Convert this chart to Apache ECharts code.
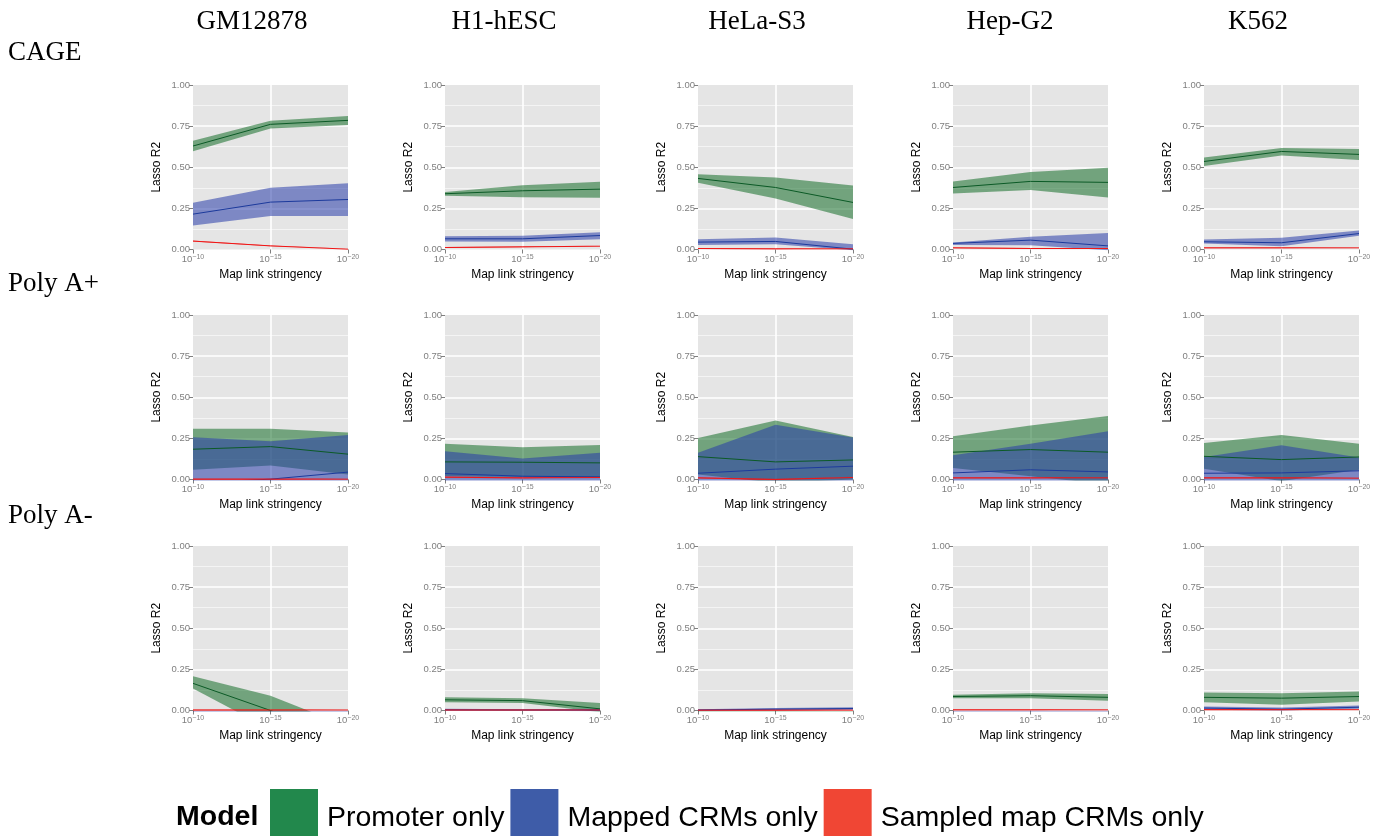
<!DOCTYPE html>
<html>
<head>
<meta charset="utf-8">
<script src="https://cdn.jsdelivr.net/npm/echarts@6/dist/echarts.min.js"></script>
<style>html,body{margin:0;padding:0;background:#fff}#c{width:1387px;height:837px}</style>
</head>
<body>
<div id="c"></div>
<script>
// ---------- data ----------
const cellLines = ['GM12878', 'H1-hESC', 'HeLa-S3', 'Hep-G2', 'K562'];
const assays = ['CAGE', 'Poly A+', 'Poly A-'];
const models = ['Promoter only', 'Mapped CRMs only', 'Sampled map CRMs only'];
const stringency = ['10', '15', '20'];          // exponent of 10^-x
const yTicks = [0, 0.25, 0.5, 0.75, 1];

// CAGE
const cagePromoterMean = [[0.629,0.761,0.785],[0.339,0.357,0.367],[0.432,0.377,0.286],[0.377,0.414,0.408],[0.535,0.596,0.578]];
const cagePromoterLow  = [[0.598,0.736,0.757],[0.327,0.318,0.314],[0.406,0.310,0.185],[0.341,0.361,0.316],[0.507,0.572,0.544]];
const cagePromoterHigh = [[0.661,0.783,0.811],[0.349,0.391,0.412],[0.458,0.438,0.389],[0.414,0.471,0.497],[0.560,0.617,0.611]];
const cageMappedMean = [[0.215,0.288,0.304],[0.065,0.065,0.085],[0.045,0.049,0.002],[0.037,0.057,0.022],[0.047,0.041,0.097]];
const cageMappedLow  = [[0.146,0.203,0.203],[0.049,0.047,0.063],[0.028,0.032,-0.004],[0.028,0.026,-0.005],[0.037,0.020,0.083]];
const cageMappedHigh = [[0.284,0.375,0.402],[0.081,0.083,0.105],[0.063,0.073,0.032],[0.043,0.077,0.101],[0.061,0.071,0.116]];
const cageSampledMean = [[0.051,0.022,0.002],[0.012,0.016,0.020],[0.006,0.004,0.004],[0.010,0.006,0.006],[0.010,0.010,0.010]];
const cageSampledLow  = [[0.048,0.019,-0.001],[0.009,0.013,0.017],[0.003,0.001,0.001],[0.007,0.003,0.003],[0.007,0.007,0.007]];
const cageSampledHigh = [[0.054,0.025,0.005],[0.015,0.019,0.023],[0.009,0.007,0.007],[0.013,0.009,0.009],[0.013,0.013,0.013]];

// Poly A+
const polyPlusPromoterMean = [[0.184,0.200,0.154],[0.107,0.105,0.101],[0.139,0.107,0.119],[0.166,0.182,0.166],[0.141,0.121,0.137]];
const polyPlusPromoterLow  = [[0.060,0.085,0.030],[0.020,0.015,0.015],[0.030,-0.020,0.000],[0.070,0.020,-0.030],[0.065,-0.010,0.060]];
const polyPlusPromoterHigh = [[0.309,0.309,0.285],[0.218,0.196,0.210],[0.253,0.358,0.259],[0.263,0.329,0.386],[0.222,0.271,0.218]];
const polyPlusMappedMean = [[-0.020,0.002,0.045],[0.036,0.020,0.016],[0.038,0.063,0.081],[0.040,0.059,0.046],[0.038,0.040,0.053]];
const polyPlusMappedLow  = [[-0.300,-0.230,-0.180],[-0.100,-0.090,-0.130],[-0.090,-0.200,-0.090],[-0.070,-0.100,-0.200],[-0.060,-0.130,-0.030]];
const polyPlusMappedHigh = [[0.257,0.232,0.271],[0.172,0.127,0.162],[0.162,0.333,0.255],[0.147,0.218,0.293],[0.137,0.208,0.133]];
const polyPlusSampledMean = [[0.002,0.002,0.002],[0.014,0.010,0.012],[0.010,0.000,0.012],[0.010,0.010,0.010],[0.010,0.010,0.008]];
const polyPlusSampledLow  = [[-0.002,-0.002,-0.002],[0.010,0.006,0.008],[0.006,-0.004,0.008],[0.006,0.006,0.006],[0.006,0.006,0.004]];
const polyPlusSampledHigh = [[0.006,0.006,0.006],[0.018,0.014,0.016],[0.014,0.004,0.016],[0.014,0.014,0.014],[0.014,0.014,0.012]];

// Poly A-
const polyMinusPromoterMean = [[0.165,0.000,-0.170],[0.065,0.060,0.010],[-0.020,-0.020,-0.020],[0.085,0.090,0.080],[0.080,0.075,0.085]];
const polyMinusPromoterLow  = [[0.133,-0.115,-0.250],[0.050,0.045,-0.010],[-0.040,-0.040,-0.040],[0.075,0.075,0.060],[0.050,0.035,0.055]];
const polyMinusPromoterHigh = [[0.208,0.089,-0.096],[0.080,0.075,0.045],[-0.005,-0.005,-0.005],[0.095,0.105,0.100],[0.110,0.105,0.115]];
const polyMinusMappedMean = [[-0.010,-0.010,-0.010],[0.004,0.003,0.003],[0.003,0.008,0.012],[-0.010,-0.010,-0.010],[0.015,0.008,0.020]];
const polyMinusMappedLow  = [[-0.020,-0.020,-0.020],[-0.002,-0.002,-0.005],[-0.002,0.000,0.004],[-0.020,-0.020,-0.020],[0.005,0.000,0.010]];
const polyMinusMappedHigh = [[-0.001,-0.001,-0.001],[0.010,0.008,0.010],[0.008,0.015,0.020],[-0.001,-0.001,-0.001],[0.025,0.018,0.030]];
const polyMinusSampledMean = [[0.003,0.003,0.003],[0.003,0.003,0.003],[0.002,0.002,0.002],[0.004,0.004,0.004],[0.005,0.005,0.005]];
const polyMinusSampledLow  = [[0.000,0.000,0.000],[0.000,0.000,0.000],[-0.001,-0.001,-0.001],[0.001,0.001,0.001],[0.002,0.002,0.002]];
const polyMinusSampledHigh = [[0.006,0.006,0.006],[0.006,0.006,0.006],[0.005,0.005,0.005],[0.007,0.007,0.007],[0.008,0.008,0.008]];

const rowData = [
  [[cagePromoterMean, cagePromoterLow, cagePromoterHigh], [cageMappedMean, cageMappedLow, cageMappedHigh], [cageSampledMean, cageSampledLow, cageSampledHigh]],
  [[polyPlusPromoterMean, polyPlusPromoterLow, polyPlusPromoterHigh], [polyPlusMappedMean, polyPlusMappedLow, polyPlusMappedHigh], [polyPlusSampledMean, polyPlusSampledLow, polyPlusSampledHigh]],
  [[polyMinusPromoterMean, polyMinusPromoterLow, polyMinusPromoterHigh], [polyMinusMappedMean, polyMinusMappedLow, polyMinusMappedHigh], [polyMinusSampledMean, polyMinusSampledLow, polyMinusSampledHigh]]
];

// ---------- styling ----------
const fillColors = ['rgba(20,110,40,0.55)', 'rgba(40,60,170,0.55)', 'rgba(235,30,30,0.55)'];
const lineColors = ['#0b5a26', '#1c3a9c', '#f01515'];
const legendColors = ['#22884c', '#3e5ca8', '#f04634'];
const colLeft = [193, 445, 698, 953, 1204];
const rowTop = [85, 315, 546];
const PW = 155, PH = 164.5;
const SANS = 'Liberation Sans, Arial, Helvetica, sans-serif';
const SERIF = 'Liberation Serif, Times New Roman, serif';
const tickGray = '#7f7f7f';

const grids = [], xAxes = [], yAxes = [], series = [];
for (let r = 0; r < 3; r++) {
  for (let c = 0; c < 5; c++) {
    const idx = r * 5 + c;
    grids.push({left: colLeft[c], top: rowTop[r], width: PW, height: PH, show: true,
      backgroundColor: '#E5E5E5', borderWidth: 0, containLabel: false});
    xAxes.push({
      gridIndex: idx, type: 'category', data: stringency, boundaryGap: false,
      axisLine: {show: false},
      axisTick: {show: true, length: 4, interval: 0, lineStyle: {color: tickGray, width: 1}},
      axisLabel: {margin: 4, interval: 0, formatter: v => '{b|10}{s|\u2212' + v + '}',
        rich: {b: {fontSize: 9.5, color: tickGray, fontFamily: SANS, verticalAlign: 'bottom', lineHeight: 11},
               s: {fontSize: 7, color: tickGray, fontFamily: SANS, verticalAlign: 'top', lineHeight: 9}}},
      splitLine: {show: true, interval: 0, showMinLine: false, showMaxLine: false, lineStyle: {color: '#ffffff', width: 1.6}},
      name: 'Map link stringency', nameLocation: 'middle', nameGap: 19,
      nameTextStyle: {fontSize: 12, color: '#000', fontFamily: SANS}
    });
    yAxes.push({
      gridIndex: idx, type: 'value', min: yTicks[0], max: yTicks[yTicks.length - 1], interval: 0.25,
      axisLine: {show: false},
      axisTick: {show: true, length: 4, lineStyle: {color: tickGray, width: 1}},
      axisLabel: {margin: 3, fontSize: 9.5, color: tickGray, fontFamily: SANS, formatter: v => v.toFixed(2)},
      splitLine: {show: true, showMinLine: false, showMaxLine: false, lineStyle: {color: '#ffffff', width: 1.6}},
      minorTick: {show: false, splitNumber: 2},
      minorSplitLine: {show: true, lineStyle: {color: '#f7f7f7', width: 0.8}},
      name: 'Lasso R2', nameLocation: 'middle', nameGap: 30,
      nameTextStyle: {fontSize: 12, color: '#000', fontFamily: SANS}
    });
    for (let m = 0; m < 3; m++) {
      const [meanA, lowA, highA] = rowData[r][m];
      const mean = meanA[c], low = lowA[c], high = highA[c];
      const stackId = 'band_' + idx + '_' + m;
      series.push({
        type: 'line', name: models[m] + ' lower', xAxisIndex: idx, yAxisIndex: idx,
        data: low.slice(), stack: stackId, stackStrategy: 'all',
        symbol: 'none', lineStyle: {opacity: 0}, silent: true, animation: false
      });
      series.push({
        type: 'line', name: models[m], xAxisIndex: idx, yAxisIndex: idx,
        data: high.map((h, i) => h - low[i]), stack: stackId, stackStrategy: 'all',
        symbol: 'none', lineStyle: {opacity: 0}, areaStyle: {color: fillColors[m], opacity: 1},
        itemStyle: {color: legendColors[m]}, silent: true, animation: false
      });
      series.push({
        type: 'line', name: models[m] + ' mean', xAxisIndex: idx, yAxisIndex: idx,
        data: mean.slice(),
        symbol: 'none', lineStyle: {color: lineColors[m], width: 1}, silent: true, animation: false
      });
    }
  }
}

const graphics = [];
const headerX = [252, 504, 757, 1010, 1258];
cellLines.forEach((t, i) => graphics.push({type: 'text', x: headerX[i], y: 22,
  style: {text: t, font: '27px ' + SERIF, fill: '#000', align: 'center', verticalAlign: 'middle'}}));
const rowLabelY = [53, 284, 516];
assays.forEach((t, i) => graphics.push({type: 'text', x: 8, y: rowLabelY[i],
  style: {text: t, font: '27px ' + SERIF, fill: '#000', align: 'left', verticalAlign: 'middle'}}));
graphics.push({type: 'text', x: 176, y: 817, style: {text: 'Model', font: 'bold 28.5px ' + SANS, fill: '#000', align: 'left', verticalAlign: 'middle'}});

const option = {
  animation: false,
  backgroundColor: '#ffffff',
  grid: grids, xAxis: xAxes, yAxis: yAxes, series: series,
  legend: {
    left: 265, top: 784, orient: 'horizontal', itemWidth: 48, itemHeight: 47, itemGap: 6,
    icon: 'rect', selectedMode: false,
    formatter: name => '{t|' + name + '}',
    textStyle: {fontSize: 28.5, color: '#000', fontFamily: SANS,
      rich: {t: {fontSize: 28.5, color: '#000', fontFamily: SANS, padding: [11, 0, 0, 4]}}},
    data: models.map((m, i) => ({name: m, icon: 'rect', itemStyle: {color: legendColors[i], opacity: 1, borderWidth: 0}}))
  },
  graphic: graphics
};
const chart = echarts.init(document.getElementById('c'));
chart.setOption(option);
</script>
</body>
</html>
